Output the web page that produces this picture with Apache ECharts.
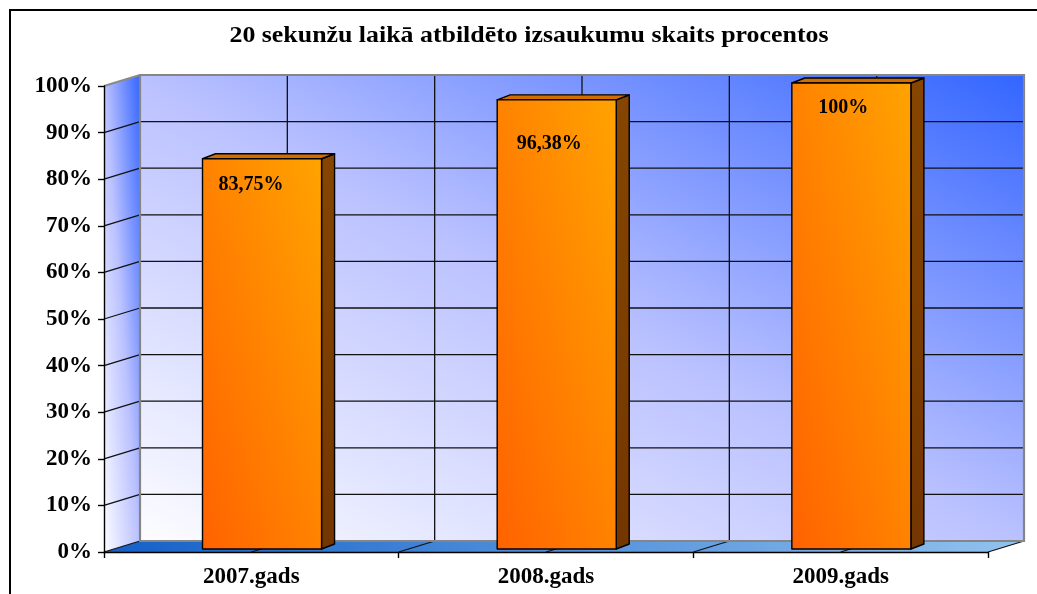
<!DOCTYPE html>
<html><head><meta charset="utf-8">
<script src="https://cdn.jsdelivr.net/npm/echarts@6/dist/echarts.min.js"></script>
<style>html,body{margin:0;padding:0;background:#fff}#c{width:1037px;height:594px}</style>
</head><body><div id="c"></div>
<script>
const titleText = '20 sekunžu laikā atbildēto izsaukumu skaits procentos';
const categories = ['2007.gads', '2008.gads', '2009.gads'];
const values = [83.75, 96.38, 100];
const yTickValues = [0, 10, 20, 30, 40, 50, 60, 70, 80, 90, 100];

const FONT = '"Liberation Serif", "Times New Roman", serif';
const DX = 36, DY = -11;           // wall depth
const BX = 10.7, BY = -3;          // bar plane offset from front plane
const BDX = 13, BDY = -5;          // bar depth
const BAR_FRAC = 0.404;
const LABEL_SHIFT = [[-11, 26], [-7.5, 44], [-8, 25]];

function diagGrad(W, H, stops) {
  const s = 1 / (W * W) + 1 / (H * H);
  const vx = (2 / W) / s, vy = (-2 / H) / s;
  return { type: 'linear', x: 0, y: 1, x2: vx / W, y2: 1 + vy / H, colorStops: stops };
}
const wallStops = [
  { offset: 0, color: '#fdfdff' },
  { offset: 0.5, color: '#bac1ff' },
  { offset: 0.8, color: '#6a8aff' },
  { offset: 1, color: '#3366ff' }
];

function line(x1, y1, x2, y2, color, w) {
  return { type: 'line', shape: { x1, y1, x2, y2 }, style: { stroke: color, lineWidth: w } };
}

function renderWalls(params, api) {
  const cs = params.coordSys;
  const x0 = cs.x, x1 = cs.x + cs.width, yT = cs.y, yB = cs.y + cs.height;
  const W = cs.width, H = cs.height;
  const ch = [];
  ch.push({ type: 'polygon', shape: { points: [[x0, yB], [x0 + DX, yB + DY], [x1 + DX, yB + DY], [x1, yB]] },
    style: { fill: { type: 'linear', x: 0, y: 0, x2: 1, y2: 0, colorStops: [{ offset: 0, color: '#1460c8' }, { offset: 1, color: '#92c2ee' }] } } });
  ch.push({ type: 'polygon', shape: { points: [[x0, yT], [x0 + DX, yT + DY], [x0 + DX, yB + DY], [x0, yB]] },
    style: { fill: diagGrad(DX, H - DY, wallStops) } });
  ch.push({ type: 'rect', shape: { x: x0 + DX, y: yT + DY, width: W, height: H },
    style: { fill: diagGrad(W, H, wallStops) } });
  yTickValues.forEach(v => {
    if (v === 0 || v === 100) return;
    const y = api.coord([0, v])[1];
    ch.push(line(x0 + DX, y + DY, x1 + DX, y + DY, '#111', 1.3));
    ch.push(line(x0, y, x0 + DX, y + DY, '#111', 1.3));
  });
  const n = categories.length * 2;
  for (let k = 1; k < n; k++) {
    const x = x0 + k * W / n;
    ch.push(line(x + DX, yT + DY, x + DX, yB + DY, '#111', 1.3));
    ch.push(line(x, yB, x + DX, yB + DY, '#111', 1.3));
  }
  ch.push(line(x1, yB, x1 + DX, yB + DY, '#111', 1.3));
  ch.push(line(x0, yB, x0 + DX, yB + DY, '#111', 1.3));
  ch.push(line(x0, yT, x0 + DX, yT + DY, '#8a8a8a', 2));
  ch.push({ type: 'rect', shape: { x: x0 + DX, y: yT + DY, width: W, height: H },
    style: { fill: 'none', stroke: '#858585', lineWidth: 2.2 } });
  return { type: 'group', children: ch };
}

function fmt(v) { return String(v).replace('.', ',') + '%'; }

function renderBar(params, api) {
  const i = api.value(0), v = api.value(1);
  const top = api.coord([i, v]), base = api.coord([i, 0]);
  const bw = api.size([1, 0])[0] * BAR_FRAC;
  const cx = top[0] + BX;
  const xl = cx - bw / 2, xr = cx + bw / 2, yt = top[1] + BY, yb = base[1] + BY;
  const stroke = { stroke: '#000', lineWidth: 1.4, lineJoin: 'round' };
  return { type: 'group', children: [
    { type: 'polygon', shape: { points: [[xr, yt], [xr + BDX, yt + BDY], [xr + BDX, yb + BDY], [xr, yb]] },
      style: Object.assign({ fill: { type: 'linear', x: 0, y: 0, x2: 0, y2: 1, colorStops: [{ offset: 0, color: '#864600' }, { offset: 1, color: '#743600' }] } }, stroke) },
    { type: 'polygon', shape: { points: [[xl, yt], [xl + BDX, yt + BDY], [xr + BDX, yt + BDY], [xr, yt]] },
      style: Object.assign({ fill: '#d26e00' }, stroke) },
    { type: 'rect', shape: { x: xl, y: yt, width: bw, height: yb - yt },
      style: Object.assign({ fill: diagGrad(bw, yb - yt, [{ offset: 0, color: '#ff6200' }, { offset: 1, color: '#ffa400' }]) }, stroke) },
    { type: 'text', x: cx + LABEL_SHIFT[i][0], y: yt + LABEL_SHIFT[i][1],
      style: { text: fmt(v), fill: '#000', font: 'bold 20px ' + FONT, align: 'center', verticalAlign: 'middle' } }
  ] };
}

const chart = echarts.init(document.getElementById('c'), null, { renderer: 'canvas' });
chart.setOption({
  animation: false,
  backgroundColor: '#fff',
  grid: { left: 104, right: 49, top: 86, bottom: 42, containLabel: false },
  graphic: [
    { type: 'rect', shape: { x: 10, y: 10, width: 1300, height: 900 }, style: { fill: 'none', stroke: '#000', lineWidth: 2 }, z: 100 },
    { type: 'text', x: 529, y: 36, scaleX: 1.125, style: { text: titleText, fill: '#000', font: 'bold 23px ' + FONT, align: 'center', verticalAlign: 'middle' }, z: 100 }
  ],
  xAxis: {
    type: 'category', data: categories, z: 10,
    axisLine: { lineStyle: { color: '#000', width: 1.4 } },
    axisTick: { show: true, length: 6, lineStyle: { color: '#000', width: 1.4 } },
    axisLabel: { color: '#000', fontFamily: FONT, fontWeight: 'bold', fontSize: 23, margin: 14 },
    splitLine: { show: false }
  },
  yAxis: {
    type: 'value', min: 0, max: 100, interval: 10, z: 10,
    axisLine: { show: true, lineStyle: { color: '#000', width: 1.4 } },
    axisTick: { show: true, length: 6, lineStyle: { color: '#000', width: 1.4 } },
    axisLabel: { color: '#000', fontFamily: FONT, fontWeight: 'bold', fontSize: 23, margin: 12, formatter: v => v + '%' },
    splitLine: { show: false }
  },
  series: [
    { type: 'custom', z: 1, clip: false, renderItem: renderWalls, data: [[0, 0]], silent: true },
    { type: 'custom', z: 3, clip: false, renderItem: renderBar, data: values.map((v, i) => [i, v]) }
  ]
});
</script></body></html>
